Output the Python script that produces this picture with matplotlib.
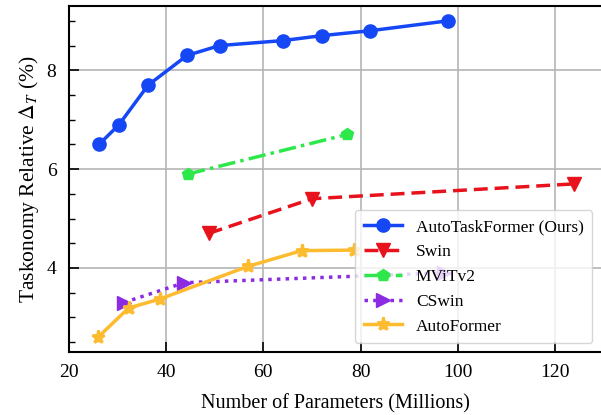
import matplotlib
matplotlib.use('Agg')
import matplotlib.pyplot as plt
from matplotlib.ticker import MultipleLocator

plt.rcParams['font.family'] = ['Liberation Serif', 'DejaVu Serif']
plt.rcParams['mathtext.fontset'] = 'stix'

# Data
ours_x = [26.2, 30.3, 36.3, 44.3, 51.0, 64.0, 72.0, 82.0, 98.0]
ours_y = [6.5, 6.9, 7.7, 8.3, 8.5, 8.6, 8.7, 8.8, 9.0]

swin_x = [48.8, 70.0, 123.9]
swin_y = [4.7, 5.4, 5.7]

mvit_x = [44.5, 77.2]
mvit_y = [5.9, 6.7]

cswin_x = [31.3, 43.7, 97.2]
cswin_y = [3.3, 3.7, 3.9]

autoformer_x = [26.0, 32.3, 38.7, 56.8, 67.9, 78.6]
autoformer_y = [2.6, 3.19, 3.37, 4.03, 4.35, 4.36]

fig = plt.figure(figsize=(6.01, 4.15), dpi=100)
ax = fig.add_axes([0.1148, 0.152, 0.8852, 0.8335])

lw = 2.5
ax.plot(ours_x, ours_y, color='#1547f5', marker='o', markersize=9.5, lw=lw,
        linestyle='-', label='AutoTaskFormer (Ours)', zorder=5)
ax.plot(swin_x, swin_y, color='#e8121c', marker='v', markersize=10, lw=lw,
        linestyle=(0, (4, 2)), label='Swin', zorder=4)
ax.plot(mvit_x, mvit_y, color='#2ee84b', marker='p', markersize=9, lw=lw,
        linestyle=(0, (5, 1.5, 1, 1.5)), label='MViTv2', zorder=4)
ax.plot(cswin_x, cswin_y, color='#8b2be2', marker='>', markersize=10, lw=lw,
        linestyle=(0, (1, 1.5)), label='CSwin', zorder=4)
ax.plot(autoformer_x, autoformer_y, color='#fdbb2f', marker='*', markersize=9.5,
        markeredgewidth=2, lw=lw, linestyle='-', label='AutoFormer', zorder=4)
for line in ax.lines:
    line.set_markeredgecolor(line.get_color())
    line.set_solid_joinstyle('round')

ax.set_xlim(20, 129.5)
ax.set_ylim(2.3, 9.3)
ax.xaxis.set_major_locator(MultipleLocator(20))
ax.yaxis.set_major_locator(MultipleLocator(2))
ax.yaxis.set_minor_locator(MultipleLocator(0.5))
ax.tick_params(axis='both', which='major', direction='in', length=7, width=1.2,
               labelsize=14, top=False, right=False, pad=9)
ax.tick_params(axis='y', which='minor', direction='in', length=4, width=1.0, right=False)
ax.grid(True, which='major', color='#b5b5b5', linewidth=1.2, zorder=0)

for side in ['left', 'top', 'bottom']:
    ax.spines[side].set_linewidth(1.5)
ax.spines['right'].set_visible(False)

ax.set_xlabel('Number of Parameters (Millions)', fontsize=14.5, labelpad=9)
ax.set_ylabel(r'Taskonomy Relative $\Delta_T$ (%)', fontsize=15.5, labelpad=4)

ax.legend(loc='lower right', fontsize=12.5, framealpha=0.8, edgecolor='#cccccc',
          fancybox=True, borderpad=0.5, handlelength=2.2)

fig.savefig('out.png', dpi=100)
